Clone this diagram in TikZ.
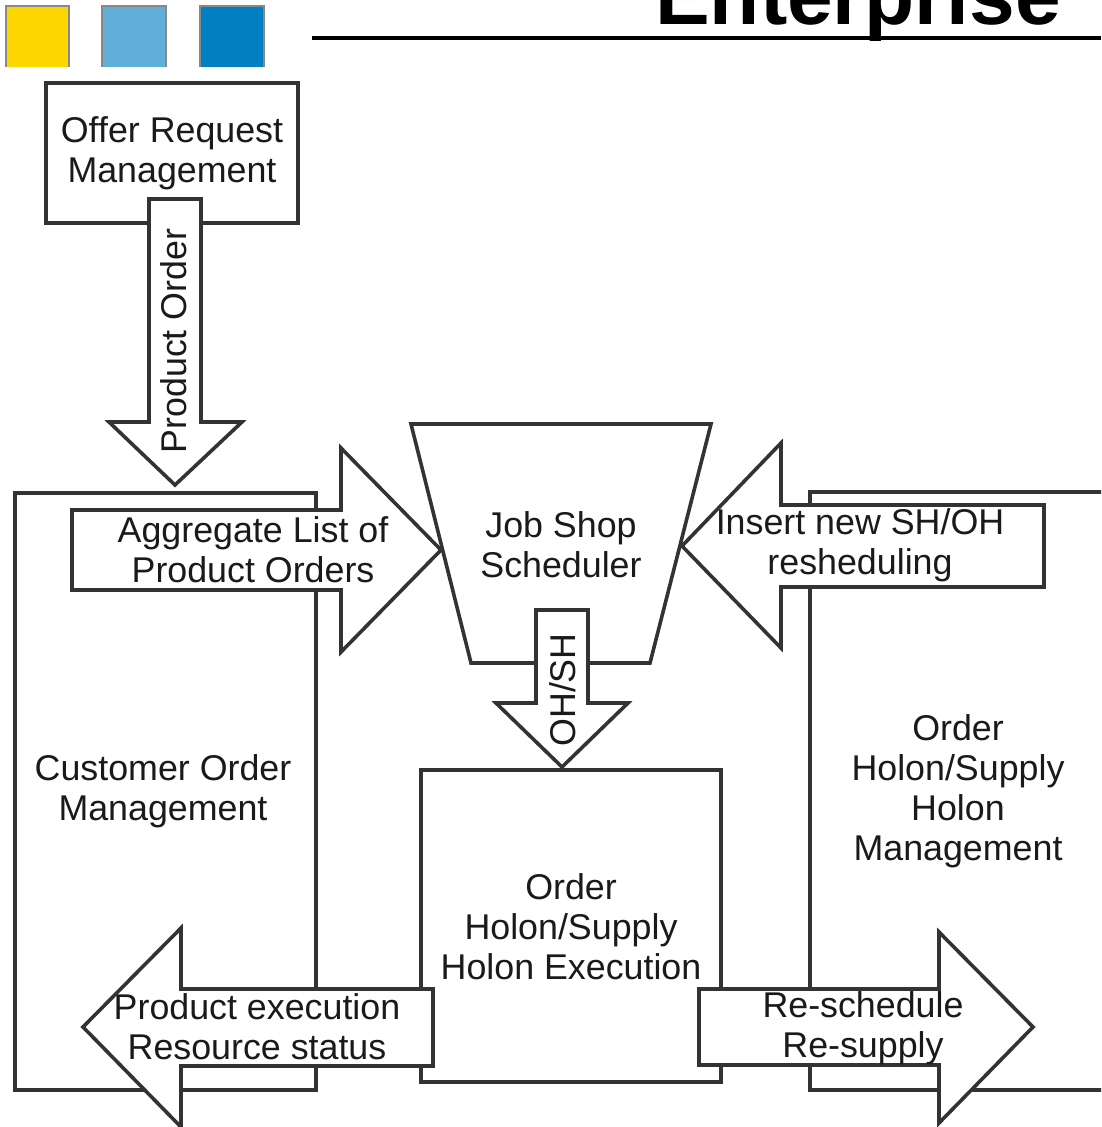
\documentclass[tikz,border=0pt]{standalone}
\usepackage{fontspec}
\setmainfont{Liberation Sans}
\definecolor{lineclr}{HTML}{333333}
\definecolor{txtclr}{HTML}{1A1A1A}
\definecolor{sqyellow}{HTML}{FBD600}
\definecolor{sqlight}{HTML}{62AEDB}
\definecolor{sqdark}{HTML}{0080C3}
\definecolor{sqborder}{HTML}{888888}
\tikzset{
  shapeline/.style={draw=lineclr, line width=3.6pt, line join=miter, fill=white},
  lbl/.style={text=txtclr, align=center, inner sep=0pt, font=\fontsize{35.8}{40}\selectfont},
  sqbox/.style={draw=sqborder, line width=2.6pt},
}
\begin{document}
\begin{tikzpicture}[x=1pt,y=-1pt]
\useasboundingbox (0,0) rectangle (1101,1127);
\clip (0,0) rectangle (1101,1127);

% header squares
\fill[sqyellow] (6,6) rectangle (69,67);
\draw[sqbox] (6,67) -- (6,6) -- (69,6) -- (69,67);
\fill[sqlight] (102,6) rectangle (166,67);
\draw[sqbox] (102,67) -- (102,6) -- (166,6) -- (166,67);
\fill[sqdark] (200,6) rectangle (264,67);
\draw[sqbox] (200,67) -- (200,6) -- (264,6) -- (264,67);

% title and rule
\node[anchor=base east, inner sep=0pt, font=\fontsize{82}{82}\selectfont\bfseries] (title) at (1061,24) {Enterprise};
\draw[line width=4pt, black] (312,38) -- (1101,38);

% boxes
\path[shapeline] (46,83) rectangle (298,223);
\path[shapeline] (15,493) rectangle (316,1090);
\path[shapeline] (421,770) rectangle (721,1082);
\path[shapeline] (1110,492) -- (810,492) -- (810,1090) -- (1110,1090);
\path[shapeline] (411,424) -- (711,424) -- (650,663) -- (471,663) -- cycle;

% block arrows
% Product Order (down)
\path[shapeline] (149,199) -- (201,199) -- (201,422) -- (242,422) -- (175,485) -- (109,422) -- (149,422) -- cycle;
% Aggregate (right)
\path[shapeline] (72,510) -- (341,510) -- (341,448) -- (441,550) -- (341,652) -- (341,590) -- (72,590) -- cycle;
% Insert new (left)
\path[shapeline] (1044,505) -- (781,505) -- (781,443) -- (682,546) -- (781,648) -- (781,587) -- (1044,587) -- cycle;
% OH/SH (down)
\path[shapeline] (536,610) -- (588,610) -- (588,703) -- (628,703) -- (562,767) -- (496,703) -- (536,703) -- cycle;
% Product execution (left)
\path[shapeline] (433,989) -- (181,989) -- (181,928) -- (83,1027) -- (181,1127) -- (181,1066) -- (433,1066) -- cycle;
% Re-schedule (right)
\path[shapeline] (699,989) -- (939,989) -- (939,932) -- (1033,1027) -- (939,1123) -- (939,1065) -- (699,1065) -- cycle;

% labels
\node[lbl] (offer) at (172,153.5) {Offer Request\\Management};
\node[lbl, rotate=90] (porder) at (174,341) {Product Order};
\node[lbl] (aggr) at (253,550) {Aggregate List of\\Product Orders};
\node[lbl] (jss) at (561,545) {Job Shop\\Scheduler};
\node[lbl] (insert) at (860,545) {Insert new SH/OH\\resheduling};
\node[lbl, rotate=90] (ohsh) at (563,690) {OH/SH};
\node[lbl] (com) at (163,791.5) {Customer Order\\Management};
\node[lbl] (ohm) at (958,791.5) {Order\\Holon/Supply\\Holon\\Management};
\node[lbl] (ohe) at (571,927) {Order\\Holon/Supply\\Holon Execution};
\node[lbl] (pexec) at (257,1027) {Product execution\\Resource status};
\node[lbl] (resch) at (863,1028) {Re-schedule\\Re-supply};
\end{tikzpicture}
\end{document}
